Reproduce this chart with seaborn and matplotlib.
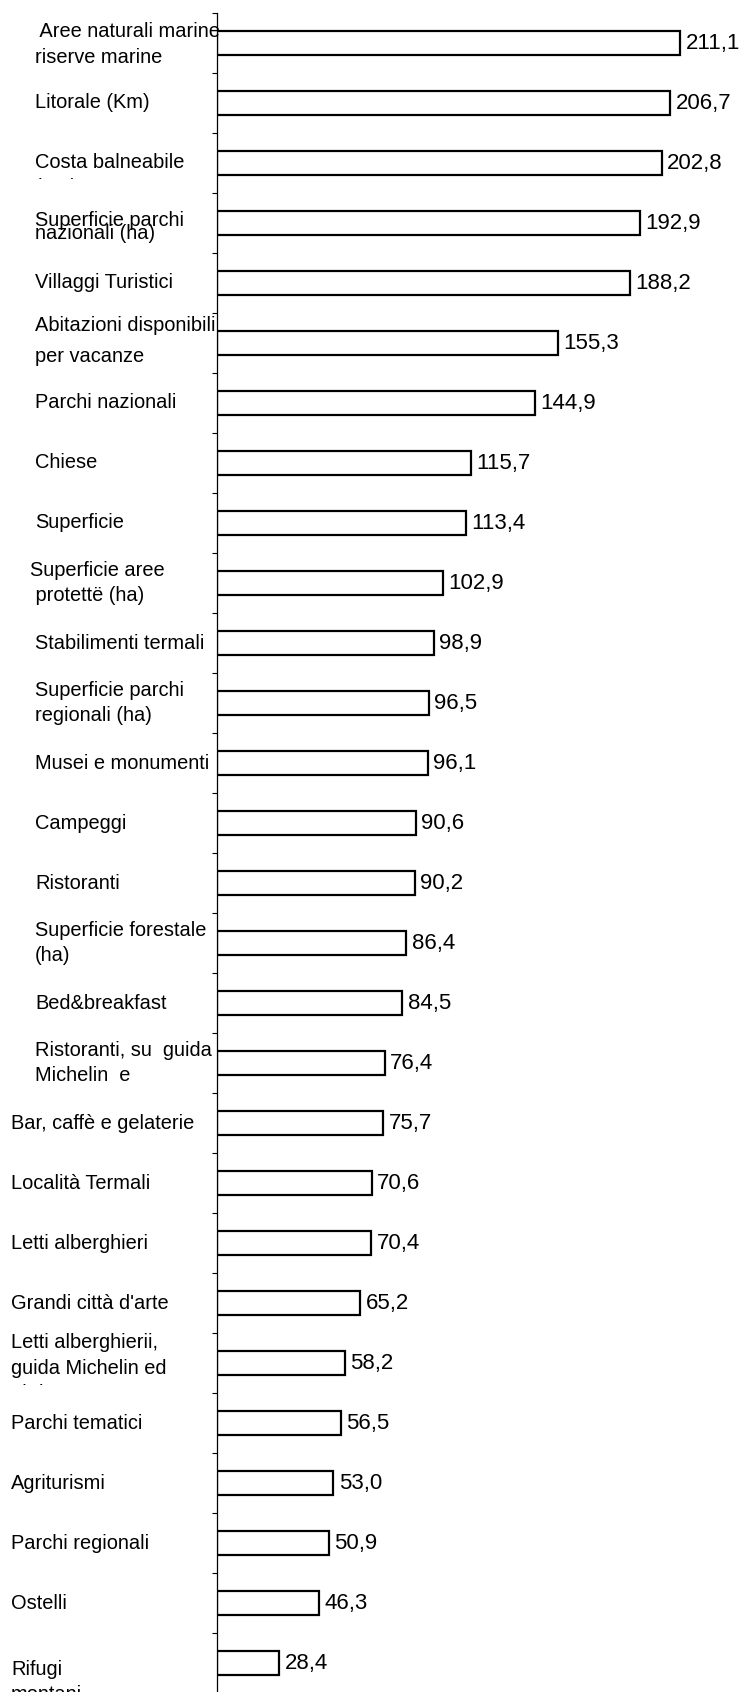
import numpy as np
import pandas as pd
import matplotlib
matplotlib.use("Agg")
import matplotlib.pyplot as plt
import matplotlib.transforms as mtransforms
import seaborn as sns

# Indicator names (line breaks as printed) and index values
categories = [
    " Aree naturali marine\nriserve marine",
    "Litorale (Km)",
    "Costa balneabile\n(Km)",
    "Superficie parchi\nnazionali (ha)",
    "Villaggi Turistici",
    "Abitazioni disponibili\nper vacanze",
    "Parchi nazionali",
    "Chiese",
    "Superficie",
    "Superficie aree\n protettë (ha)",
    "Stabilimenti termali",
    "Superficie parchi\nregionali (ha)",
    "Musei e monumenti",
    "Campeggi",
    "Ristoranti",
    "Superficie forestale\n(ha)",
    "Bed&breakfast",
    "Ristoranti, su  guida\nMichelin  e",
    "Bar, caffè e gelaterie",
    "Località Termali",
    "Letti alberghieri",
    "Grandi città d'arte",
    "Letti alberghierii,\nguida Michelin ed\naltri",
    "Parchi tematici",
    "Agriturismi",
    "Parchi regionali",
    "Ostelli",
    "Rifugi\nmontani",
]
values = [211.1, 206.7, 202.8, 192.9, 188.2, 155.3, 144.9, 115.7, 113.4,
          102.9, 98.9, 96.5, 96.1, 90.6, 90.2, 86.4, 84.5, 76.4, 75.7,
          70.6, 70.4, 65.2, 58.2, 56.5, 53.0, 50.9, 46.3, 28.4]

df = pd.DataFrame({"indicatore": categories, "valore": values})

sns.set_theme(style="white")
plt.rcParams["font.family"] = ["Liberation Sans", "DejaVu Sans"]

W, H = 745, 1692
fig = plt.figure(figsize=(W / 100, H / 100), dpi=100)
ax = fig.add_axes([217 / W, -1 / H, 528 / W, 1680 / H])

sns.barplot(data=df, x="valore", y="indicatore", orient="h",
            color="white", saturation=1, edgecolor="black",
            linewidth=1.6, width=0.41, errorbar=None, ax=ax)

n = len(categories)
ax.set_xlim(0, 240.8)
ax.set_ylim(n - 0.5, -0.5)
for side in ("top", "right", "bottom"):
    ax.spines[side].set_visible(False)
ax.spines["left"].set_linewidth(0.9)
ax.spines["left"].set_color("black")
ax.set_xticks([])
ax.set_yticks(np.arange(n + 1) - 0.5)
ax.tick_params(axis="y", length=3.6, width=0.8, color="black",
               direction="out", labelleft=False, left=True)
ax.set_xlabel("")
ax.set_ylabel("")

# value labels with decimal comma
ax.bar_label(ax.containers[0],
             labels=[f"{v:.1f}".replace(".", ",") for v in values],
             padding=4, fontsize=16, color="black")

# category labels drawn left of the axis
label_x = {i: 11 for i in range(18, n)}
label_x[9] = 30
layout = {
    0: dict(dy=1.5),
    2: dict(dy=12, clip=16.5),
    3: dict(dy=4, ls=0.65),
    5: dict(dy=-2, ls=1.75),
    22: dict(dy=5, clip=21.5),
    27: dict(dy=19),
}
base = mtransforms.blended_transform_factory(fig.transFigure, ax.transData)
for i, lab in enumerate(categories):
    opts = layout.get(i, {})
    dy = opts.get("dy", 0)
    trans = mtransforms.offset_copy(base, fig=fig, x=0, y=-dy, units="dots")
    t = fig.text(label_x.get(i, 35) / W, i, lab, transform=trans,
                 ha="left", va="center", multialignment="left",
                 fontsize=14.4, color="black",
                 linespacing=opts.get("ls", 1.45))
    if "clip" in opts:
        yc = ax.transData.transform((0, i))[1] - opts["clip"]
        t.set_clip_on(True)
        t.set_clip_box(mtransforms.Bbox([[0, yc], [W, H]]))

fig.savefig("out.png", dpi=100)
